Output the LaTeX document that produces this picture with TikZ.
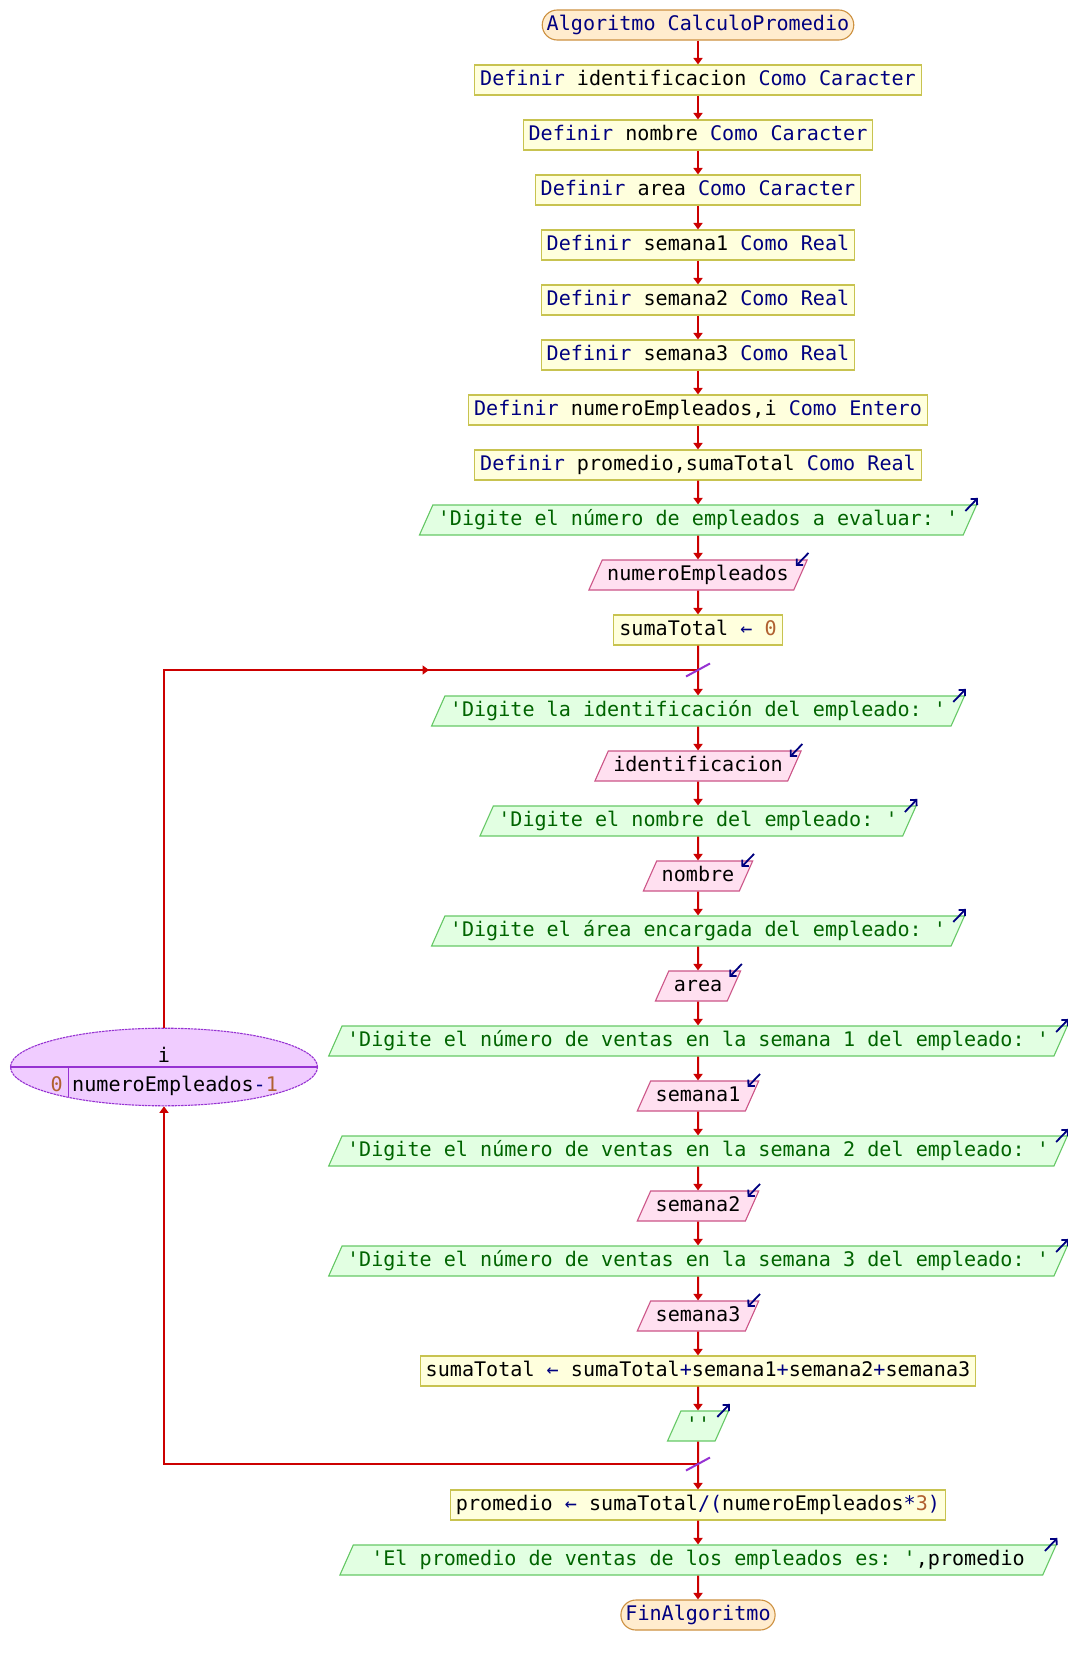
\documentclass[tikz,border=0pt]{standalone}
\usepackage{fontspec}
\setmonofont{DejaVu Sans Mono}
\usetikzlibrary{shapes.geometric,arrows.meta}
\definecolor{kwc}{RGB}{0,0,128}
\definecolor{strc}{RGB}{0,100,0}
\definecolor{numc}{RGB}{176,96,48}
\definecolor{deff}{RGB}{255,255,221}
\definecolor{defd}{RGB}{200,195,80}
\definecolor{termf}{RGB}{255,236,206}
\definecolor{termd}{RGB}{205,145,65}
\definecolor{outf}{RGB}{226,255,226}
\definecolor{outd}{RGB}{102,200,102}
\definecolor{inf}{RGB}{255,224,240}
\definecolor{ind}{RGB}{204,85,136}
\definecolor{flowc}{RGB}{204,0,0}
\definecolor{purc}{RGB}{150,50,210}
\definecolor{forf}{RGB}{240,204,255}
\newcommand{\pkw}[1]{\textcolor{kwc}{#1}}
\newcommand{\pst}[1]{\textcolor{strc}{#1}}
\newcommand{\pnm}[1]{\textcolor{numc}{#1}}
\begin{document}
\begin{tikzpicture}[x=1pt,y=-1pt,
  every node/.style={font=\ttfamily\fontsize{20.1}{24}\selectfont},
  txt/.style={text height=14.8pt,text depth=4.8pt},
  boxbase/.style={txt,inner ysep=5.2pt,line width=1.1pt},
  defbox/.style={boxbase,rectangle,draw=defd,fill=deff,inner xsep=5.5pt},
  term/.style={boxbase,rectangle,rounded corners=15pt,draw=termd,fill=termf,inner xsep=4.5pt},
  outbox/.style={boxbase,trapezium,trapezium left angle=66,trapezium right angle=114,draw=outd,fill=outf,inner xsep=5pt},
  inbox/.style={boxbase,trapezium,trapezium left angle=66,trapezium right angle=114,draw=ind,fill=inf,inner xsep=5pt},
  flowline/.style={draw=flowc,line width=2pt},
  flow/.style={flowline,-{Triangle[length=6.5pt,width=9pt]}},
  ioarrow/.style={draw=kwc,line width=1.8pt,-{Straight Barb[length=4.5pt,width=9pt]}},
  tickmark/.style={draw=purc,line width=2pt},
  purline/.style={draw=purc,line width=1.1pt}
]
\useasboundingbox (0,0) rectangle (1068,1665);
\fill[white] (0,0) rectangle (1068,1665);

\node[term]   (t0) at (698,25)   {\pkw{Algoritmo CalculoPromedio}};
\node[defbox] (d1) at (698,80)   {\pkw{Definir} identificacion \pkw{Como Caracter}};
\node[defbox] (d2) at (698,135)  {\pkw{Definir} nombre \pkw{Como Caracter}};
\node[defbox] (d3) at (698,190)  {\pkw{Definir} area \pkw{Como Caracter}};
\node[defbox] (d4) at (698,245)  {\pkw{Definir} semana1 \pkw{Como Real}};
\node[defbox] (d5) at (698,300)  {\pkw{Definir} semana2 \pkw{Como Real}};
\node[defbox] (d6) at (698,355)  {\pkw{Definir} semana3 \pkw{Como Real}};
\node[defbox] (d7) at (698,410)  {\pkw{Definir} numeroEmpleados,i \pkw{Como Entero}};
\node[defbox] (d8) at (698,465)  {\pkw{Definir} promedio,sumaTotal \pkw{Como Real}};
\node[outbox] (o1) at (698,520)  {\pst{'Digite el número de empleados a evaluar: '}};
\node[inbox]  (i1) at (698,575)  {numeroEmpleados};
\node[defbox] (a1) at (698,630)  {sumaTotal \pkw{←} \pnm{0}};

\node[outbox] (o2) at (698,711)  {\pst{'Digite la identificación del empleado: '}};
\node[inbox]  (i2) at (698,766)  {identificacion};
\node[outbox] (o3) at (698,821)  {\pst{'Digite el nombre del empleado: '}};
\node[inbox]  (i3) at (698,876)  {nombre};
\node[outbox] (o4) at (698,931)  {\pst{'Digite el área encargada del empleado: '}};
\node[inbox]  (i4) at (698,986)  {area};
\node[outbox] (o5) at (698,1041) {\pst{'Digite el número de ventas en la semana 1 del empleado: '}};
\node[inbox]  (i5) at (698,1096) {semana1};
\node[outbox] (o6) at (698,1151) {\pst{'Digite el número de ventas en la semana 2 del empleado: '}};
\node[inbox]  (i6) at (698,1206) {semana2};
\node[outbox] (o7) at (698,1261) {\pst{'Digite el número de ventas en la semana 3 del empleado: '}};
\node[inbox]  (i7) at (698,1316) {semana3};
\node[defbox] (a2) at (698,1371) {sumaTotal \pkw{←} sumaTotal\pkw{+}semana1\pkw{+}semana2\pkw{+}semana3};
\node[outbox] (o8) at (698,1426) {\pst{''}};

\node[defbox] (a3) at (698,1505) {promedio \pkw{←} sumaTotal\pkw{/(}numeroEmpleados\pkw{*}\pnm{3}\pkw{)}};
\node[outbox,inner xsep=18pt] (o9) at (698,1560) {\pst{'El promedio de ventas de los empleados es: '},promedio};
\node[term]   (t1) at (698,1615) {\pkw{FinAlgoritmo}};

% for loop ellipse
\node[ellipse,draw=purc,fill=forf,line width=1.1pt,dash pattern=on 2.5pt off 0.8pt,
      minimum width=307pt,minimum height=77.6pt,inner sep=0pt] (forn) at (164,1067) {};
\draw[purline] (forn.west) -- (forn.east);
\coordinate (vd1) at (68.3,1067);
\coordinate (vd2) at (68.3,1097.4);
\draw[purline] (vd1) -- (vd2);
\node[txt,inner sep=0pt] (fi) at (164,1057) {i};
\node[txt,anchor=east,inner sep=0pt] (f0) at (63,1086.7) {\pnm{0}};
\node[txt,anchor=west,inner sep=0pt] (fend) at (72,1086.7) {numeroEmpleados\pkw{-}\pnm{1}};

% straight connectors
\foreach \a/\b in {t0/d1,d1/d2,d2/d3,d3/d4,d4/d5,d5/d6,d6/d7,d7/d8,d8/o1,o1/i1,i1/a1,a1/o2,
                   o2/i2,i2/o3,o3/i3,i3/o4,o4/i4,i4/o5,o5/i5,i5/o6,o6/i6,i6/o7,o7/i7,i7/a2,a2/o8,o8/a3,
                   a3/o9,o9/t1}
  \draw[flow] (\a.south) -- (\b.north);

% loop connectors
\coordinate (j1) at (698,670);
\coordinate (c1) at (164,670);
\coordinate (m1) at (429,670);
\coordinate (j2) at (698,1464);
\coordinate (c2) at (164,1464);
\draw[flowline] (forn.north) -- (c1) -- (j1);
\draw[flow] (c1) -- (m1);
\draw[flow] (j2) -- (c2) -- (forn.south);
\draw[tickmark] ([shift={(-12,6.5)}]j1) -- ([shift={(12,-6.5)}]j1);
\draw[tickmark] ([shift={(-12,6.5)}]j2) -- ([shift={(12,-6.5)}]j2);

% output / input markers
\foreach \o in {o1,o2,o3,o4,o5,o6,o7,o8,o9}
  \draw[ioarrow] ([shift={(-12,6.5)}]\o.top right corner) -- ([shift={(0.5,-6.5)}]\o.top right corner);
\foreach \i in {i1,i2,i3,i4,i5,i6,i7}
  \draw[ioarrow] ([shift={(0.5,-6.5)}]\i.top right corner) -- ([shift={(-12,6.5)}]\i.top right corner);
\end{tikzpicture}
\end{document}
